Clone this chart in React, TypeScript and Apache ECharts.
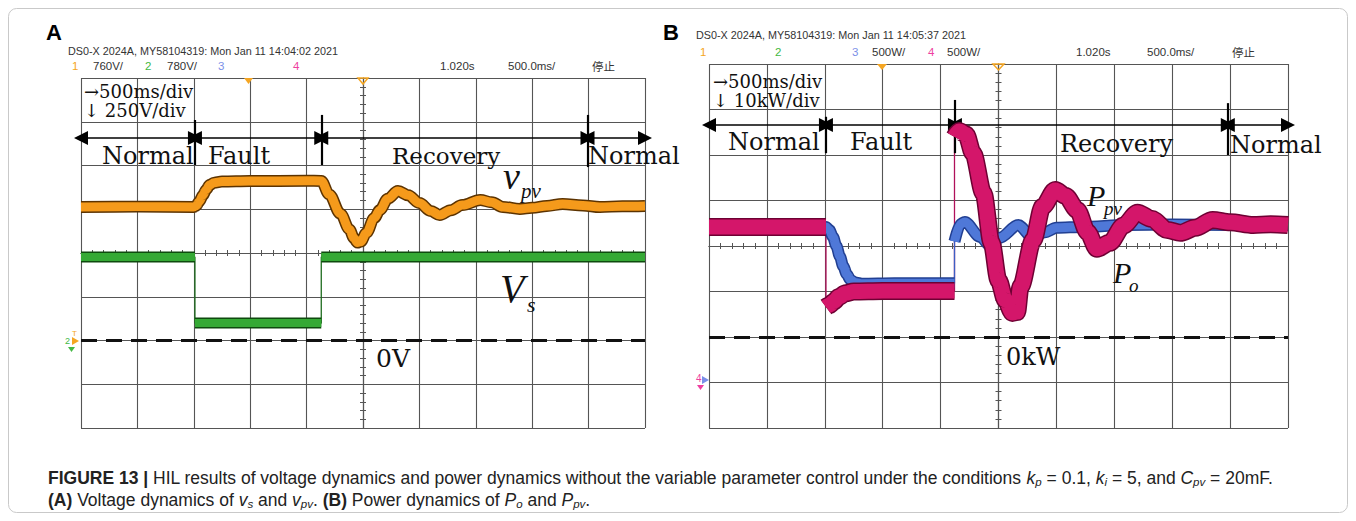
import React, { useEffect, useRef } from "react";
import * as echarts from "echarts";

// ---------------- Panel A: voltage dynamics (500 ms/div, 250 V/div) ----------------
const vpvTime = [0, 0.5, 1.0, 1.02, 1.05, 1.08, 1.11, 1.14, 1.18, 1.25, 1.5, 2.0, 2.13, 2.2, 2.3, 2.38, 2.42, 2.45, 2.48, 2.53, 2.6, 2.65, 2.72, 2.81, 2.9, 3.0, 3.1, 3.18, 3.28, 3.38, 3.54, 3.64, 3.74, 3.89, 4.0, 4.13, 4.27, 4.45, 4.6, 4.8, 5.0];
const vpvVolt = [763, 765, 763, 770, 795, 830, 862, 888, 902, 908, 911, 913, 912, 835, 725, 635, 585, 560, 565, 615, 700, 746, 810, 854, 830, 786, 740, 717, 745, 774, 803, 790, 763, 752, 758, 769, 780, 772, 763, 767, 769];
const vsTime = [0, 1.01, 1.01, 2.13, 2.13, 5.0];
const vsVolt = [477, 477, 100, 100, 477, 477];
const phaseTimesA = [0, 1.01, 2.13, 4.49, 5.0];

// ---------------- Panel B: power dynamics (500 ms/div, 10 kW/div) ----------------
const ppvTime = [0, 0.5, 1.01, 1.04, 1.07, 1.1, 1.13, 1.16, 1.19, 1.22, 1.26, 1.32, 1.6, 2.0, 2.12, 2.12, 2.17, 2.21, 2.34, 2.44, 2.51, 2.67, 2.79, 2.9, 3.0, 3.23, 3.6, 4.0, 4.5, 5.0];
const ppvKw = [24.2, 24.2, 24.2, 23.5, 22.0, 20.0, 17.7, 15.5, 13.8, 12.6, 12.0, 11.7, 11.8, 11.8, 11.8, 21.0, 24.8, 25.3, 22.0, 19.8, 21.8, 24.6, 22.0, 23.0, 24.0, 24.2, 24.6, 24.7, 24.6, 24.6];
const poTime = [0, 0.5, 1.01, 1.01, 1.04, 1.08, 1.12, 1.18, 1.25, 1.5, 2.0, 2.12, 2.12, 2.16, 2.22, 2.28, 2.37, 2.44, 2.5, 2.56, 2.62, 2.66, 2.69, 2.8, 2.88, 2.99, 3.08, 3.18, 3.27, 3.35, 3.46, 3.58, 3.7, 3.82, 3.96, 4.07, 4.2, 4.35, 4.5, 4.7, 4.85, 5.0];
const poKw = [24.2, 24.2, 24.2, 6.6, 7.0, 7.8, 8.8, 9.6, 10.0, 10.1, 10.1, 10.1, 44.0, 45.3, 44.5, 40.4, 31.6, 20.7, 12.5, 8.1, 5.3, 5.5, 11, 21.3, 28.6, 32.3, 31, 27.9, 23, 19.4, 20.7, 24.5, 27.3, 26, 23.5, 22.9, 24, 25.7, 25.2, 24.6, 24.8, 24.6];
const phaseTimesB = [0, 1.01, 2.124, 4.48, 5.0];

const SERIF = "'DejaVu Serif', 'Liberation Serif', serif";
const TIMES = "'Liberation Serif', 'Times New Roman', serif";
const SANS = "'Liberation Sans', Arial, sans-serif";
const GRID = "#555555";

const pairs = (t: number[], v: number[]) => t.map((x, i) => [x, v[i]]);
const broken = (t: number[], v: number[]) => {
  const out: any[] = [];
  t.forEach((x, i) => {
    if (i > 0 && x === t[i - 1]) out.push([x, "-"]);
    out.push([x, v[i]]);
  });
  return out;
};

function trace(name: string, gi: number, data: any[], color: string, width: number, smooth: number | boolean, z: number) {
  return {
    type: "line", name, xAxisIndex: gi, yAxisIndex: gi, data, showSymbol: false, symbol: "none",
    smooth, smoothMonotone: "x", connectNulls: false, silent: true, z,
    lineStyle: { color, width, cap: "butt", join: "round" },
  };
}

function mainX(gi: number) {
  return {
    type: "value", gridIndex: gi, min: 0, max: 5, interval: 0.5,
    axisLine: { show: false, onZero: false }, axisTick: { show: false }, axisLabel: { show: false },
    splitLine: { show: true, lineStyle: { color: GRID, width: 1.1 } },
  };
}
function mainY(gi: number, min: number, max: number, interval: number) {
  return {
    type: "value", gridIndex: gi, min, max, interval,
    axisLine: { show: false, onZero: false }, axisTick: { show: false }, axisLabel: { show: false },
    splitLine: { show: true, lineStyle: { color: GRID, width: 1.1 } },
  };
}
function centerX(gi: number, offset: number, inside: boolean) {
  return {
    type: "value", gridIndex: gi, min: 0, max: 5, interval: 0.1, position: "top", offset,
    axisLine: { show: true, onZero: false, lineStyle: { color: GRID, width: 1.1 } },
    axisTick: { show: true, inside, length: 3, lineStyle: { color: GRID, width: 1 } },
    axisLabel: { show: false }, splitLine: { show: false },
  };
}
function centerY(gi: number, offset: number, inside: boolean, min: number, max: number, interval: number) {
  return {
    type: "value", gridIndex: gi, min, max, interval, position: "left", offset,
    axisLine: { show: true, onZero: false, lineStyle: { color: GRID, width: 1.1 } },
    axisTick: { show: true, inside, length: 3, lineStyle: { color: GRID, width: 1 } },
    axisLabel: { show: false }, splitLine: { show: false },
  };
}

function phaseMarks(times: number[], rowY: number, sepTop: number[], sepBottom: number[]) {
  const data: any[] = [];
  for (let i = 0; i < times.length - 1; i++) {
    data.push([{ coord: [times[i], rowY] }, { coord: [times[i + 1], rowY] }]);
  }
  for (let i = 1; i < times.length - 1; i++) {
    data.push([
      { coord: [times[i], sepTop[i - 1]], symbol: "none", lineStyle: { width: 2.2, color: "#000" } },
      { coord: [times[i], sepBottom[i - 1]], symbol: "none" },
    ]);
  }
  return {
    silent: true, symbol: ["triangle", "triangle"], symbolSize: [14, 14],
    label: { show: false }, lineStyle: { color: "#000", width: 1.6, type: "solid" },
    emphasis: { disabled: true }, data,
  };
}

const zeroLine = {
  silent: true, symbol: ["none", "none"], label: { show: false },
  lineStyle: { color: "#111", width: 3, type: [16, 9] }, data: [{ yAxis: 0 }],
};

const txt = (x: number, y: number, text: string, fontSize: number, fill = "#111", fontFamily = SERIF, extra: any = {}) => ({
  type: "text", x, y, silent: true, z: 50,
  style: { text, fontSize, fontFamily, fill, textVerticalAlign: "middle", ...extra },
});
const ital = (x: number, y: number, text: string, fontSize: number, lineHeight: number) =>
  txt(x, y, text, fontSize, "#111", TIMES, { fontStyle: "italic", lineHeight });

const ORANGE = "#f5a623", GREEN = "#44b844", BLUE = "#7a8fe8", MAGENTA = "#ee3fa0";
const HDR = 10.8, CH = 11.5;
const CAP = 17.5;

const capRich = {
  b: { fontSize: CAP, fontFamily: SANS, fontWeight: "bold", fill: "#222", lineHeight: 20 },
  i: { fontSize: CAP, fontFamily: SANS, fontStyle: "italic", fill: "#222", lineHeight: 20 },
  s: { fontSize: 11.5, fontFamily: SANS, fontStyle: "italic", fill: "#222", lineHeight: 12, verticalAlign: "bottom" },
};

const graphics: any[] = [
  { type: "rect", shape: { x: 8.5, y: 8.5, width: 1339, height: 504, r: 8 }, style: { fill: "none", stroke: "#c9c9c9", lineWidth: 1 }, silent: true },
  // Panel A header
  txt(46, 32, "A", 22, "#000", SANS, { fontWeight: "bold" }),
  txt(68, 51, "DS0-X 2024A, MY58104319: Mon Jan 11 14:04:02 2021", HDR, "#333", SANS),
  txt(72, 66, "1", CH, ORANGE, SANS), txt(93, 66, "760V/", CH, "#333", SANS),
  txt(145, 66, "2", CH, GREEN, SANS), txt(167, 66, "780V/", CH, "#333", SANS),
  txt(218, 66, "3", CH, BLUE, SANS), txt(293, 66, "4", CH, MAGENTA, SANS),
  txt(440, 66, "1.020s", CH, "#333", SANS), txt(508, 66, "500.0ms/", CH, "#333", SANS),
  txt(592, 66, "停止", CH, "#333", "'Noto Sans CJK SC', sans-serif"),
  { type: "polygon", shape: { points: [[244, 78], [253, 78], [248.5, 84]] }, style: { fill: ORANGE }, silent: true, z: 60 },
  { type: "polygon", shape: { points: [[358, 78], [368, 78], [363, 84]] }, style: { fill: "none", stroke: ORANGE, lineWidth: 1.5 }, silent: true, z: 60 },
  txt(84, 91, "→500ms/div", 18, "#111", SERIF, { lineHeight: 18 }),
  txt(84, 110, "↓ 250V/div", 18, "#111", SERIF, { lineHeight: 18 }),
  txt(102, 156, "Normal", 24, "#111", SERIF, { lineHeight: 18 }),
  txt(208, 156, "Fault", 24, "#111", SERIF, { lineHeight: 18 }),
  txt(392, 156, "Recovery", 23, "#111", SERIF, { lineHeight: 18 }),
  txt(588, 156, "Normal", 24, "#111", SERIF, { lineHeight: 18 }),
  ital(503, 176, "v", 38, 14),
  ital(521, 191, "pv", 21, 14),
  ital(500, 288, "V", 40, 26),
  ital(527, 304, "s", 22, 12),
  txt(376, 358, "0V", 25),
  txt(65, 341, "2", 9, GREEN, SANS),
  txt(72, 333, "T", 8, ORANGE, SANS),
  { type: "polygon", shape: { points: [[72, 337], [79, 341], [72, 345]] }, style: { fill: ORANGE }, silent: true, z: 60 },
  { type: "polygon", shape: { points: [[68, 347], [75, 347], [71.5, 352]] }, style: { fill: GREEN }, silent: true, z: 60 },

  // Panel B header
  txt(663, 32, "B", 22, "#000", SANS, { fontWeight: "bold" }),
  txt(696, 35, "DS0-X 2024A, MY58104319: Mon Jan 11 14:05:37 2021", HDR, "#333", SANS),
  txt(700, 52, "1", CH, ORANGE, SANS), txt(775, 52, "2", CH, GREEN, SANS),
  txt(852, 52, "3", CH, BLUE, SANS), txt(872, 52, "500W/", CH, "#333", SANS),
  txt(928, 52, "4", CH, MAGENTA, SANS), txt(947, 52, "500W/", CH, "#333", SANS),
  txt(1076, 52, "1.020s", CH, "#333", SANS), txt(1147, 52, "500.0ms/", CH, "#333", SANS),
  txt(1232, 52, "停止", CH, "#333", "'Noto Sans CJK SC', sans-serif"),
  { type: "polygon", shape: { points: [[877, 64], [887, 64], [882, 70]] }, style: { fill: ORANGE }, silent: true, z: 60 },
  { type: "polygon", shape: { points: [[993, 64], [1004, 64], [998.5, 70]] }, style: { fill: "none", stroke: ORANGE, lineWidth: 1.5 }, silent: true, z: 60 },
  txt(713, 81, "→500ms/div", 18, "#111", SERIF, { lineHeight: 18 }),
  txt(713, 100, "↓ 10kW/div", 18, "#111", SERIF, { lineHeight: 18 }),
  txt(728, 142, "Normal", 24, "#111", SERIF, { lineHeight: 18 }),
  txt(850, 142, "Fault", 24, "#111", SERIF, { lineHeight: 18 }),
  txt(1060, 144, "Recovery", 24, "#111", SERIF, { lineHeight: 18 }),
  txt(1230, 145, "Normal", 24, "#111", SERIF, { lineHeight: 18 }),
  ital(1087, 195, "P", 30, 20),
  ital(1104, 208, "pv", 19, 10),
  ital(1113, 272, "P", 30, 20),
  ital(1129, 285, "o", 19, 10),
  txt(1006, 357, "0kW", 24),
  txt(696, 378, "4", 10, MAGENTA, SANS),
  { type: "polygon", shape: { points: [[702, 376], [709, 380], [702, 384]] }, style: { fill: BLUE }, silent: true, z: 60 },
  { type: "polygon", shape: { points: [[697, 385], [704, 385], [700.5, 390]] }, style: { fill: MAGENTA }, silent: true, z: 60 },

  // Caption
  {
    type: "text", x: 48, y: 478, silent: true,
    style: {
      text: "{b|FIGURE 13 |} HIL results of voltage dynamics and power dynamics without the variable parameter control under the conditions {i|k}{s|p} = 0.1, {i|k}{s|i} = 5, and {i|C}{s|pv} = 20mF.",
      fontSize: CAP, fontFamily: SANS, fill: "#222", lineHeight: 20, textVerticalAlign: "middle", rich: capRich,
    },
  },
  {
    type: "text", x: 48, y: 500, silent: true,
    style: {
      text: "{b|(A)} Voltage dynamics of {i|v}{s|s} and {i|v}{s|pv}. {b|(B)} Power dynamics of {i|P}{s|o} and {i|P}{s|pv}.",
      fontSize: CAP, fontFamily: SANS, fill: "#222", lineHeight: 20, textVerticalAlign: "middle", rich: capRich,
    },
  },
];

const option: any = {
  animation: false,
  backgroundColor: "#ffffff",
  grid: [
    { left: 81, top: 78, width: 564, height: 350, show: false },
    { left: 709, top: 64, width: 579, height: 364, show: false },
  ],
  xAxis: [
    mainX(0), mainX(1),
    centerX(0, -175, true), centerX(0, -175, false),
    centerX(1, -182, true), centerX(1, -182, false),
  ],
  yAxis: [
    mainY(0, -500, 1500, 250), mainY(1, -20, 60, 10),
    centerY(0, -282, true, -500, 1500, 50), centerY(0, -282, false, -500, 1500, 50),
    centerY(1, -289.5, true, -20, 60, 2), centerY(1, -289.5, false, -20, 60, 2),
  ],
  series: [
    // Panel A
    { ...trace("vs edges", 0, pairs(vsTime, vsVolt), "#1d6b1d", 1.3, false, 3), markLine: zeroLine },
    trace("vs outline", 0, broken(vsTime, vsVolt), "#0e4a0e", 11, false, 4),
    trace("vs", 0, broken(vsTime, vsVolt), "#35a935", 8, false, 5),
    trace("vpv outline", 0, pairs(vpvTime, vpvVolt), "#5c3300", 12, 0.35, 6),
    trace("vpv", 0, pairs(vpvTime, vpvVolt), "#f59a1b", 9, 0.35, 7),
    { type: "line", xAxisIndex: 0, yAxisIndex: 0, data: [], silent: true, markLine: phaseMarks(phaseTimesA, 1157, [1260, 1289, 1289], [1003, 1003, 991]) },
    // Panel B
    { ...trace("Po edges", 1, pairs(poTime, poKw), "#b0105a", 1.3, false, 3), markLine: zeroLine },
    trace("Ppv edges", 1, pairs(ppvTime, ppvKw), "#3b5fc4", 1.3, false, 3),
    trace("Ppv outline", 1, broken(ppvTime, ppvKw), "#213f92", 12, 0.3, 4),
    trace("Ppv", 1, broken(ppvTime, ppvKw), "#4f78d8", 9, 0.3, 5),
    trace("Po outline", 1, broken(poTime, poKw), "#6e0033", 18, 0.3, 6),
    trace("Po", 1, broken(poTime, poKw), "#d4166a", 15, 0.3, 7),
    { type: "line", xAxisIndex: 1, yAxisIndex: 1, data: [], silent: true, markLine: phaseMarks(phaseTimesB, 46.6, [48.4, 52.1, 51.4], [40.4, 40.4, 40.0]) },
  ],
  graphic: graphics,
};

export default function App() {
  const ref = useRef<HTMLDivElement>(null);
  useEffect(() => {
    document.body.style.margin = "0";
    const chart = echarts.init(ref.current!, undefined, { renderer: "svg", width: 1356, height: 521 });
    chart.setOption(option);
    return () => chart.dispose();
  }, []);
  return <div ref={ref} style={{ width: 1356, height: 521, background: "#fff" }} />;
}
